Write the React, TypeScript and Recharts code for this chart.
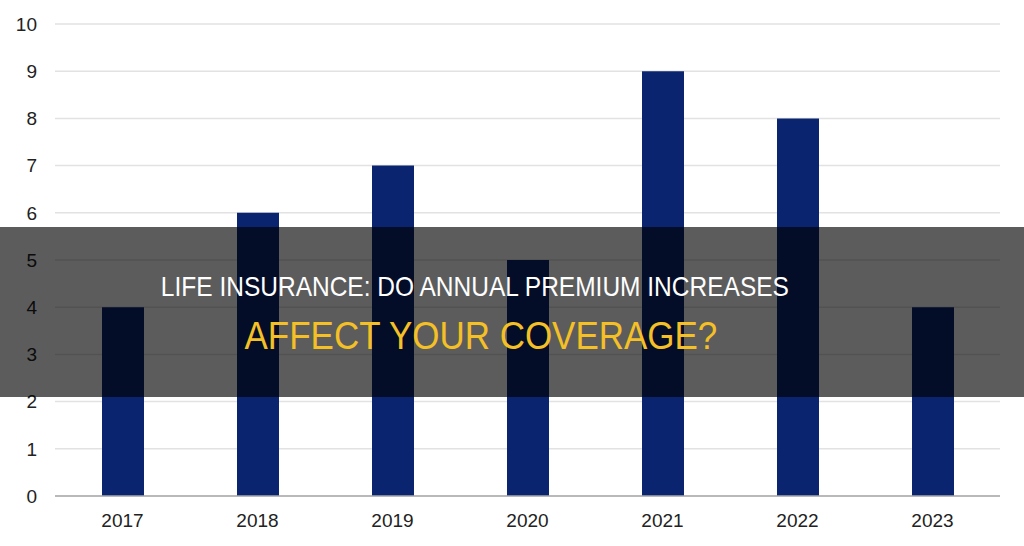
import React from 'react';
import { BarChart, Bar, XAxis, YAxis, CartesianGrid } from 'recharts';

// years and values
const years = ['2017', '2018', '2019', '2020', '2021', '2022', '2023'];
const values = [4, 6, 7, 5, 9, 8, 4];
const yTicks = [0, 1, 2, 3, 4, 5, 6, 7, 8, 9, 10];

const titleTop = 'LIFE INSURANCE: DO ANNUAL PREMIUM INCREASES';
const titleBottom = 'AFFECT YOUR COVERAGE?';

const chartData = years.map((year, i) => ({ year, value: values[i] }));

const font = '"Liberation Sans", Arial, sans-serif';

const App: React.FC = () => {
  return (
    <div style={{ position: 'absolute', left: 0, top: 0, width: 1024, height: 546, background: '#fff', fontFamily: font }}>
      <BarChart
        width={1024}
        height={546}
        data={chartData}
        margin={{ top: 24, right: 24, left: 0, bottom: 0 }}
      >
        <CartesianGrid vertical={false} stroke="#e2e2e2" strokeWidth={1.5} />
        <XAxis
          dataKey="year"
          height={50}
          tickLine={false}
          axisLine={{ stroke: '#a8a8a8', strokeWidth: 1.5 }}
          tickMargin={12}
          tick={{ fill: '#222', fontSize: 19, fontFamily: font }}
        />
        <YAxis
          width={55}
          domain={[0, 10]}
          ticks={yTicks}
          interval={0}
          axisLine={false}
          tickLine={false}
          tickMargin={12}
          tick={{ fill: '#222', fontSize: 19, fontFamily: font }}
        />
        <Bar dataKey="value" fill="#0b2470" barSize={42} isAnimationActive={false} />
      </BarChart>
      <div
        style={{
          position: 'absolute',
          left: 0,
          top: 227,
          width: 1024,
          height: 170,
          background: 'rgba(0,0,0,0.64)',
          display: 'flex',
          flexDirection: 'column',
          alignItems: 'center',
          justifyContent: 'center',
          paddingRight: 74,
          boxSizing: 'border-box',
        }}
      >
        <div style={{ color: '#fff', fontSize: 28, lineHeight: '34px', marginTop: 4, whiteSpace: 'nowrap', transform: 'scaleX(0.875)' }}>{titleTop}</div>
        <div style={{ color: '#f4c025', fontSize: 38, lineHeight: '44px', marginTop: 10, marginLeft: 12, whiteSpace: 'nowrap', transform: 'scaleX(0.92)' }}>{titleBottom}</div>
      </div>
    </div>
  );
};

export default App;
